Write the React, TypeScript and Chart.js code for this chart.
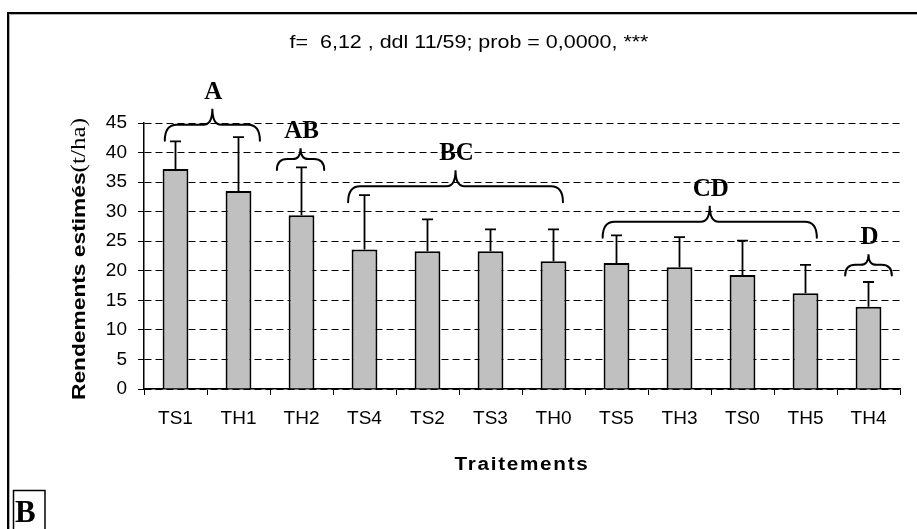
import React, { useEffect, useRef } from "react";
import { Chart, registerables } from "chart.js";

Chart.register(...registerables);

// Treatments, mean estimated yields (t/ha) and their standard deviations
const treatments = ["TS1", "TH1", "TH2", "TS4", "TS2", "TS3", "TH0", "TS5", "TH3", "TS0", "TH5", "TH4"];
const meanYield = [37.2, 33.5, 29.4, 23.6, 23.3, 23.3, 21.6, 21.3, 20.6, 19.3, 16.2, 13.9];
const stdDev = [4.7, 9.1, 8.1, 9.2, 5.4, 3.7, 5.4, 4.7, 5.1, 5.8, 4.8, 4.2];

// Y axis range
const yMin = 0;
const yMax = 45;
const yStep = 5;

// Homogeneous groups (Newman-Keuls letters): span in category units and brace level in t/ha
const groupLetters = ["A", "AB", "BC", "CD", "D"];
const groupFrom = [-0.17, 1.61, 2.74, 6.78, 10.63];
const groupTo = [1.34, 2.36, 6.15, 10.18, 11.37];
const groupLevel = [44.7, 38.9, 34.3, 28.3, 21.0];

const statsText = "f=  6,12 , ddl 11/59; prob = 0,0000, ***";
const xTitle = "Traitements";
const yTitleMain = "Rendements estimés";
const yTitleUnit = "(t/ha)";
const panelLetter = "B";

const SANS = "'Liberation Sans', Arial, sans-serif";
const SERIF = "'Liberation Serif', 'Times New Roman', serif";

const overlay = {
  id: "overlay",
  afterDatasetsDraw(chart: any) {
    const { ctx, scales } = chart;
    const x = scales.x;
    const y = scales.y;
    const meta = chart.getDatasetMeta(0);

    // upper error bars
    ctx.save();
    ctx.strokeStyle = "#000";
    ctx.lineWidth = 1.8;
    meta.data.forEach((bar: any, i: number) => {
      const top = y.getPixelForValue(meanYield[i] + stdDev[i]);
      ctx.beginPath();
      ctx.moveTo(bar.x, bar.y);
      ctx.lineTo(bar.x, top);
      ctx.moveTo(bar.x - 5.5, top);
      ctx.lineTo(bar.x + 5.5, top);
      ctx.stroke();
    });
    ctx.restore();

    // group braces with their letters
    const origin = x.getPixelForValue(0);
    const step = x.getPixelForValue(1) - origin;
    ctx.save();
    ctx.strokeStyle = "#000";
    ctx.fillStyle = "#000";
    ctx.lineWidth = 2;
    ctx.lineCap = "round";
    groupLetters.forEach((g, i) => {
      const x0 = origin + groupFrom[i] * step;
      const x1 = origin + groupTo[i] * step;
      const w = x1 - x0;
      const d = Math.min(16, w * 0.23);
      const r = Math.min(12, w * 0.22);
      const rm = Math.min(9, w * 0.17);
      const mid = (x0 + x1) / 2;
      const yl = y.getPixelForValue(groupLevel[i]);
      ctx.beginPath();
      ctx.moveTo(x0, yl + d);
      ctx.quadraticCurveTo(x0, yl, x0 + r, yl);
      ctx.lineTo(mid - rm, yl);
      ctx.quadraticCurveTo(mid, yl, mid, yl - d);
      ctx.quadraticCurveTo(mid, yl, mid + rm, yl);
      ctx.lineTo(x1 - r, yl);
      ctx.quadraticCurveTo(x1, yl, x1, yl + d);
      ctx.stroke();

      ctx.font = `bold 25px ${SERIF}`;
      ctx.textAlign = "center";
      ctx.textBaseline = "alphabetic";
      ctx.fillText(g, mid + 1, yl - d - 10);
    });
    ctx.restore();
  },
  afterDraw(chart: any) {
    const { ctx, chartArea } = chart;
    ctx.save();
    ctx.fillStyle = "#000";

    // statistics line
    ctx.save();
    ctx.font = `19px ${SANS}`;
    ctx.textAlign = "center";
    ctx.textBaseline = "middle";
    ctx.translate(469, 43);
    ctx.scale(1.13, 1);
    ctx.fillText(statsText, 0, 0);
    ctx.restore();

    // x axis title
    ctx.save();
    ctx.font = `bold 18px ${SANS}`;
    (ctx as any).letterSpacing = "1.5px";
    ctx.textAlign = "center";
    ctx.textBaseline = "middle";
    ctx.translate((chartArea.left + chartArea.right) / 2, 465);
    ctx.scale(1.15, 1);
    ctx.fillText(xTitle, 0, 0);
    ctx.restore();

    // y axis title: bold sans part followed by serif unit
    ctx.save();
    const fMain = `bold 19px ${SANS}`;
    const fUnit = `21px ${SERIF}`;
    ctx.font = fMain;
    const w1 = ctx.measureText(yTitleMain).width;
    ctx.font = fUnit;
    const w2 = ctx.measureText(yTitleUnit).width;
    const s = 282 / (w1 + w2);
    ctx.translate(85, 259);
    ctx.rotate(-Math.PI / 2);
    ctx.scale(s, 1);
    ctx.textAlign = "left";
    ctx.textBaseline = "alphabetic";
    const start = -(w1 + w2) / 2;
    ctx.font = fMain;
    ctx.fillText(yTitleMain, start, 0);
    ctx.font = fUnit;
    ctx.fillText(yTitleUnit, start + w1, 0);
    ctx.restore();

    // frame
    ctx.strokeStyle = "#000";
    ctx.lineWidth = 2;
    ctx.strokeRect(8, 13, 940, 540);
    ctx.strokeStyle = "#b0b0b0";
    ctx.lineWidth = 1;
    ctx.beginPath();
    ctx.moveTo(9.5, 600);
    ctx.lineTo(9.5, 14.5);
    ctx.lineTo(940, 14.5);
    ctx.stroke();

    // panel letter
    ctx.strokeStyle = "#000";
    ctx.lineWidth = 1.5;
    ctx.strokeRect(13.5, 490.5, 31.5, 60);
    ctx.font = `bold 31px ${SERIF}`;
    ctx.textAlign = "left";
    ctx.textBaseline = "alphabetic";
    ctx.fillText(panelLetter, 15, 522);

    ctx.restore();
  },
};

export default function App() {
  const canvasRef = useRef<HTMLCanvasElement | null>(null);

  useEffect(() => {
    if (!canvasRef.current) return;
    const chart = new Chart(canvasRef.current, {
      type: "bar",
      data: {
        labels: treatments,
        datasets: [
          {
            data: meanYield,
            backgroundColor: "#c0c0c0",
            borderColor: "#000",
            borderWidth: 2,
            barPercentage: 0.41,
            categoryPercentage: 1,
          },
        ],
      },
      options: {
        responsive: false,
        animation: false,
        devicePixelRatio: 1,
        layout: { padding: { left: 90, right: 17, top: 123, bottom: 80 } },
        plugins: {
          legend: { display: false },
          tooltip: { enabled: false },
          title: { display: false },
        },
        scales: {
          x: {
            offset: true,
            grid: {
              display: true,
              offset: true,
              drawOnChartArea: false,
              drawTicks: true,
              tickLength: 6,
              color: "#000",
              tickColor: "#000",
            },
            border: { display: true, color: "#000", width: 1.5 },
            ticks: {
              color: "#000",
              font: { family: SANS, size: 19 },
              padding: 12,
              maxRotation: 0,
              autoSkip: false,
            },
            afterFit: (scale: any) => {
              scale.height = 60;
            },
          },
          y: {
            min: yMin,
            max: yMax,
            grid: {
              color: "#000",
              lineWidth: 1,
              drawTicks: true,
              tickLength: 6,
              tickColor: "#000",
              tickBorderDash: [],
            },
            border: { display: true, color: "#000", width: 1.5, dash: [7, 4] },
            ticks: {
              stepSize: yStep,
              color: "#000",
              font: { family: SANS, size: 19 },
              padding: 11,
            },
            afterFit: (scale: any) => {
              scale.width = 54;
            },
          },
        },
      },
      plugins: [overlay],
    });
    return () => chart.destroy();
  }, []);

  return (
    <canvas
      ref={canvasRef}
      width={917}
      height={529}
      style={{ position: "absolute", left: 0, top: 0, width: 917, height: 529 }}
    />
  );
}
